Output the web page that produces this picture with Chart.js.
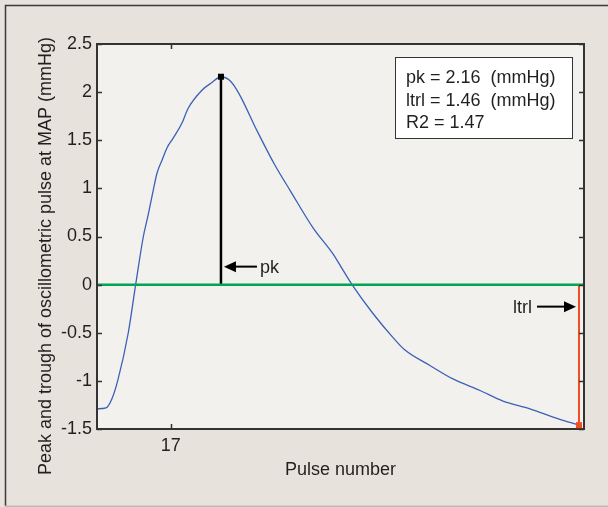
<!DOCTYPE html>
<html>
<head>
<meta charset="utf-8">
<script src="https://cdn.jsdelivr.net/npm/chart.js@4"></script>
<style>
  html, body { margin: 0; padding: 0; background: #e7e2dc; }
  canvas { display: block; }
</style>
</head>
<body>
<canvas id="pulseChart" width="608" height="507"></canvas>
<script>
// pulse number vs peak/trough amplitude (mmHg)
const pulse = [12.00, 12.61, 13.00, 13.40, 14.12, 14.62, 15.14, 15.46, 15.81, 16.07, 16.40, 16.74, 17.15,
  17.76, 18.17, 19.11, 19.79, 20.40, 21.00, 21.60, 22.84, 24.06, 25.08, 26.64, 27.99, 28.67, 29.28,
  30.70, 32.06, 32.87, 34.56, 36.12, 37.95, 39.51, 41.34, 43.17, 44.66];
const amplitude = [-1.29, -1.28, -1.19, -1.00, -0.50, 0.00, 0.50, 0.72, 0.98, 1.16, 1.29, 1.42, 1.52,
  1.68, 1.83, 2.02, 2.10, 2.16, 2.12, 1.99, 1.60, 1.24, 0.98, 0.59, 0.32, 0.15, 0.00,
  -0.30, -0.55, -0.68, -0.84, -0.98, -1.10, -1.21, -1.29, -1.39, -1.46];

const xRange = [12, 45];
const xTicks = [17];
const yTicks = [-1.5, -1, -0.5, 0, 0.5, 1, 1.5, 2, 2.5];

const peakPulse = 20.40;
const peakValue = 2.16;
const troughPulse = 44.66;
const troughValue = -1.46;
const r2Value = 1.47;

const FONT = '"Liberation Sans", Arial, Helvetica, sans-serif';
const TEXT = '#231f20';

Chart.defaults.font.family = FONT;
Chart.defaults.font.size = 18;
Chart.defaults.color = TEXT;

function arrow(ctx, fromX, tipX, y) {
    const dir = tipX > fromX ? 1 : -1;
    ctx.beginPath();
    ctx.moveTo(fromX, y);
    ctx.lineTo(tipX - dir * 10, y);
    ctx.lineWidth = 2;
    ctx.strokeStyle = '#000';
    ctx.stroke();
    ctx.beginPath();
    ctx.moveTo(tipX, y);
    ctx.lineTo(tipX - dir * 12, y - 5.5);
    ctx.lineTo(tipX - dir * 12, y + 5.5);
    ctx.closePath();
    ctx.fillStyle = '#000';
    ctx.fill();
}

const framePlugin = {
    id: 'frame',
    beforeDraw(chart) {
        const ctx = chart.ctx;
        const a = chart.chartArea;
        ctx.save();
        ctx.fillStyle = '#e7e2dc';
        ctx.fillRect(0, 0, chart.width, chart.height);
        ctx.lineWidth = 1.5;
        ctx.strokeStyle = '#3a3a3a';
        ctx.beginPath();
        ctx.moveTo(5.5, chart.height - 1);
        ctx.lineTo(5.5, 5.5);
        ctx.lineTo(chart.width, 5.5);
        ctx.stroke();
        ctx.strokeStyle = '#bdbab5';
        ctx.beginPath();
        ctx.moveTo(5, chart.height - 0.75);
        ctx.lineTo(chart.width, chart.height - 0.75);
        ctx.stroke();
        ctx.fillStyle = '#f2f1ee';
        ctx.fillRect(a.left, a.top, a.right - a.left, a.bottom - a.top);
        ctx.restore();
    },
    afterDatasetsDraw(chart) {
        const ctx = chart.ctx;
        const a = chart.chartArea;
        const xs = chart.scales.x;
        const ys = chart.scales.y;
        ctx.save();

        // axes box and inward ticks
        ctx.strokeStyle = '#333';
        ctx.lineWidth = 1.5;
        ctx.beginPath();
        yTicks.forEach(v => {
            const y = Math.round(ys.getPixelForValue(v)) + 0.5;
            ctx.moveTo(a.left, y); ctx.lineTo(a.left + 5, y);
            ctx.moveTo(a.right, y); ctx.lineTo(a.right - 5, y);
        });
        xTicks.forEach(v => {
            const x = Math.round(xs.getPixelForValue(v)) + 0.5;
            ctx.moveTo(x, a.top); ctx.lineTo(x, a.top + 5);
            ctx.moveTo(x, a.bottom); ctx.lineTo(x, a.bottom - 5);
        });
        ctx.stroke();
        ctx.lineWidth = 2;
        ctx.strokeRect(a.left, a.top, a.right - a.left, a.bottom - a.top);

        // end markers
        const pkX = xs.getPixelForValue(peakPulse);
        const trX = xs.getPixelForValue(troughPulse);
        ctx.fillStyle = '#000';
        ctx.fillRect(pkX - 3, ys.getPixelForValue(peakValue) - 3, 6, 6);
        ctx.fillStyle = '#f04e23';
        ctx.fillRect(trX - 3, ys.getPixelForValue(troughValue) - 3, 6, 6);

        // annotations
        const zeroY = ys.getPixelForValue(0);
        arrow(ctx, pkX + 36, pkX + 3, zeroY - 18);
        arrow(ctx, trX - 42, trX - 3, zeroY + 22);
        ctx.fillStyle = TEXT;
        ctx.font = '18px ' + FONT;
        ctx.textBaseline = 'alphabetic';
        ctx.textAlign = 'left';
        ctx.fillText('pk', pkX + 39, zeroY - 12);
        ctx.textAlign = 'right';
        ctx.fillText('ltrl', trX - 47, zeroY + 28);

        // value box
        const bx = 395, by = 57, bw = 177, bh = 81;
        ctx.fillStyle = '#fff';
        ctx.fillRect(bx, by, bw, bh);
        ctx.lineWidth = 1;
        ctx.strokeStyle = '#333';
        ctx.strokeRect(bx + 0.5, by + 0.5, bw, bh);
        ctx.fillStyle = TEXT;
        ctx.textAlign = 'left';
        ctx.fillText('pk = ' + peakValue.toFixed(2) + '  (mmHg)', bx + 11, by + 26);
        ctx.fillText('ltrl = ' + Math.abs(troughValue).toFixed(2) + '  (mmHg)', bx + 11, by + 49);
        ctx.fillText('R2 = ' + r2Value.toFixed(2), bx + 11, by + 71);

        // y axis title
        ctx.translate(46, 256);
        ctx.rotate(-Math.PI / 2);
        ctx.textAlign = 'center';
        ctx.textBaseline = 'middle';
        ctx.fillText('Peak and trough of oscillometric pulse at MAP (mmHg)', 0, 0);
        ctx.restore();
    }
};

const curve = pulse.map((p, i) => ({ x: p, y: amplitude[i] }));

new Chart(document.getElementById('pulseChart').getContext('2d'), {
    type: 'line',
    data: {
        datasets: [{
            label: 'zero',
            data: [{ x: xRange[0], y: 0 }, { x: xRange[1], y: 0 }],
            borderColor: '#00a651',
            borderWidth: 2.5,
            pointRadius: 0,
            order: 0
        }, {
            label: 'pk',
            data: [{ x: peakPulse, y: 0 }, { x: peakPulse, y: peakValue }],
            borderColor: '#000',
            borderWidth: 2.5,
            pointRadius: 0,
            order: 1
        }, {
            label: 'ltrl',
            data: [{ x: troughPulse, y: 0 }, { x: troughPulse, y: troughValue }],
            borderColor: '#f04e23',
            borderWidth: 2,
            pointRadius: 0,
            order: 1
        }, {
            label: 'pulse',
            data: curve,
            borderColor: '#3b60b6',
            borderWidth: 1.3,
            pointRadius: 0,
            cubicInterpolationMode: 'monotone',
            order: 2
        }]
    },
    options: {
        responsive: false,
        animation: false,
        devicePixelRatio: 1,
        events: [],
        layout: { padding: { top: 44, right: 24, left: 0, bottom: 0 } },
        plugins: { legend: { display: false }, tooltip: { enabled: false } },
        scales: {
            x: {
                type: 'linear',
                min: xRange[0],
                max: xRange[1],
                afterBuildTicks: s => { s.ticks = xTicks.map(v => ({ value: v })); },
                afterFit: s => { s.height = 78; },
                grid: { display: false, drawTicks: false },
                border: { display: false },
                ticks: { padding: 6, maxRotation: 0, font: { size: 18 }, color: TEXT },
                title: {
                    display: true,
                    text: 'Pulse number',
                    font: { size: 18 },
                    color: TEXT,
                    padding: { top: 0, bottom: 26 }
                }
            },
            y: {
                min: yTicks[0],
                max: yTicks[yTicks.length - 1],
                afterBuildTicks: s => { s.ticks = yTicks.map(v => ({ value: v })); },
                afterFit: s => { s.width = 97; },
                grid: { display: false, drawTicks: false },
                border: { display: false },
                ticks: { padding: 5, font: { size: 18 }, color: TEXT, callback: v => String(v) }
            }
        }
    },
    plugins: [framePlugin]
});
</script>
</body>
</html>
